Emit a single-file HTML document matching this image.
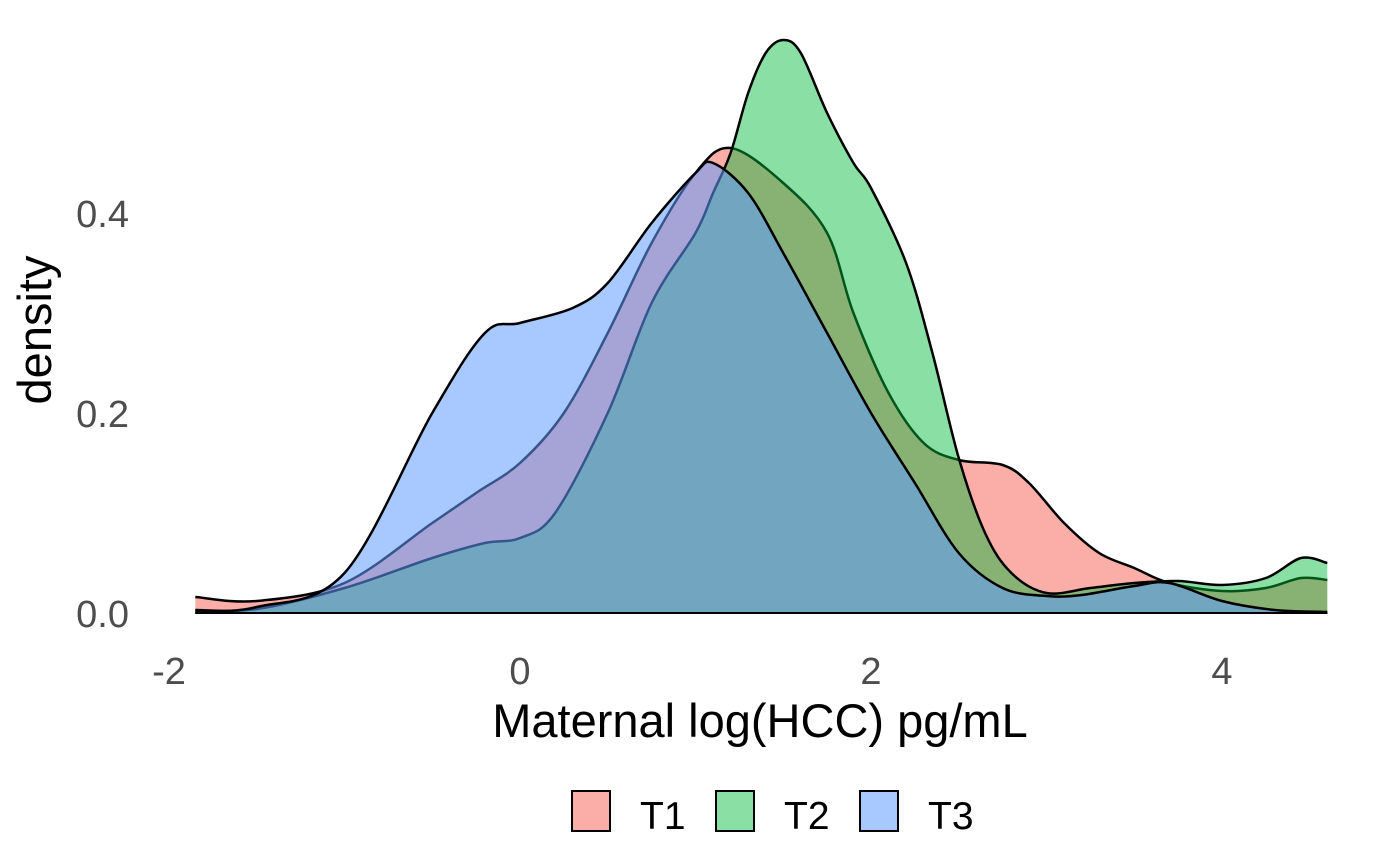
<!DOCTYPE html>
<html><head><meta charset="utf-8"><style>
body{margin:0;background:#fff;}
svg{display:block;font-family:"Liberation Sans",Arial,sans-serif;}
</style></head><body>
<svg id="chart" width="1400" height="865"></svg>
<script>
const xTicks=[-2,0,2,4];
const yTicks=[0.0,0.2,0.4];
const yTickLabels=["0.0","0.2","0.4"];
const seriesNames=["T1","T2","T3"];
const t1x=[-1.85,-1.5,-1,-0.5,-0.25,0,0.25,0.5,0.75,1.0,1.2,1.5,1.75,1.9,2.1,2.3,2.5,2.75,2.9,3.1,3.3,3.5,3.7,4.0,4.25,4.45,4.6];
const t1y=[0.016,0.012,0.03,0.09,0.12,0.15,0.2,0.28,0.37,0.44,0.465,0.43,0.38,0.3,0.22,0.17,0.153,0.148,0.13,0.09,0.06,0.045,0.03,0.022,0.025,0.035,0.033];
const t2x=[-1.85,-1.5,-1,-0.5,-0.2,0,0.2,0.5,0.75,1.0,1.1,1.2,1.3,1.4,1.5,1.6,1.75,1.9,2.0,2.2,2.35,2.5,2.65,2.8,3.0,3.25,3.5,3.75,4.0,4.25,4.45,4.6];
const t2y=[0.003,0.004,0.025,0.055,0.07,0.075,0.1,0.2,0.31,0.38,0.42,0.46,0.52,0.56,0.573,0.56,0.5,0.45,0.425,0.35,0.26,0.155,0.08,0.04,0.02,0.025,0.03,0.032,0.028,0.035,0.055,0.05];
const t3x=[-1.85,-1.5,-1,-0.5,-0.2,0,0.3,0.5,0.75,1.0,1.1,1.3,1.5,1.75,2.0,2.25,2.5,2.75,3.0,3.2,3.5,3.7,4.0,4.3,4.6];
const t3y=[0.002,0.006,0.04,0.2,0.28,0.29,0.305,0.33,0.39,0.44,0.45,0.42,0.36,0.28,0.2,0.13,0.06,0.025,0.017,0.018,0.027,0.03,0.012,0.003,0.001];
const fills=["rgba(248,118,109,0.6)","rgba(0,186,56,0.46)","rgba(97,156,255,0.55)"];

const X=v=>520+v*175.5;
const Y=v=>613-v*1000;
const svg=document.getElementById('chart');
const NS="http://www.w3.org/2000/svg";
function mk(tag,attrs,parent){const e=document.createElementNS(NS,tag);for(const k in attrs)e.setAttribute(k,attrs[k]);(parent||svg).appendChild(e);return e;}
function curve(xs,ys){
  const p=xs.map((x,i)=>[X(x),Y(ys[i])]);
  let d=`M${p[0][0]},${p[0][1]}`;
  for(let i=0;i<p.length-1;i++){
    const p0=p[Math.max(i-1,0)],p1=p[i],p2=p[i+1],p3=p[Math.min(i+2,p.length-1)];
    const c1=[p1[0]+(p2[0]-p0[0])/6,p1[1]+(p2[1]-p0[1])/6];
    const c2=[p2[0]-(p3[0]-p1[0])/6,p2[1]-(p3[1]-p1[1])/6];
    d+=` C${c1[0]},${c1[1]} ${c2[0]},${c2[1]} ${p2[0]},${p2[1]}`;
  }
  return {d,p};
}
const data=[[t1x,t1y],[t2x,t2y],[t3x,t3y]];
data.forEach((s,i)=>{
  const c=curve(s[0],s[1]);
  const first=c.p[0],last=c.p[c.p.length-1];
  const area=mk('path',{d:c.d+` L${last[0]},${Y(0)} L${first[0]},${Y(0)} Z`,fill:fills[i],stroke:'none'});
  
  
  const line=mk('path',{d:c.d,fill:'none',stroke:'#000','stroke-width':2.5});
  
  
  const base=mk('line',{x1:first[0],x2:last[0],y1:Y(0),y2:Y(0),stroke:'#000','stroke-width':2});
  
  
});
xTicks.forEach(v=>{
  const t=mk('text',{x:X(v),y:684,'text-anchor':'middle','font-size':38,fill:'#4d4d4d'});
  t.textContent=v;
  
  
});
yTicks.forEach((v,i)=>{
  const t=mk('text',{x:129,y:Y(v)+14,'text-anchor':'end','font-size':38,fill:'#4d4d4d'});
  t.textContent=yTickLabels[i];
  
  
});
const xt=mk('text',{x:760,y:737,'text-anchor':'middle','font-size':47,fill:'#000'});
xt.textContent='Maternal log(HCC) pg/mL';


const yt=mk('text',{x:0,y:0,'text-anchor':'middle','font-size':47,fill:'#000',transform:'translate(51,330) rotate(-90)'});
yt.textContent='density';


const legX=[572,716,860];
seriesNames.forEach((n,i)=>{
  const g=mk('g',{});
  
  
  mk('rect',{x:legX[i],y:791,width:38,height:40,fill:fills[i],stroke:'#000','stroke-width':2},g);
  const t=mk('text',{x:legX[i]+68,y:829,'text-anchor':'start','font-size':39,fill:'#000'},g);
  t.textContent=n;
});
</script>
</body></html>
